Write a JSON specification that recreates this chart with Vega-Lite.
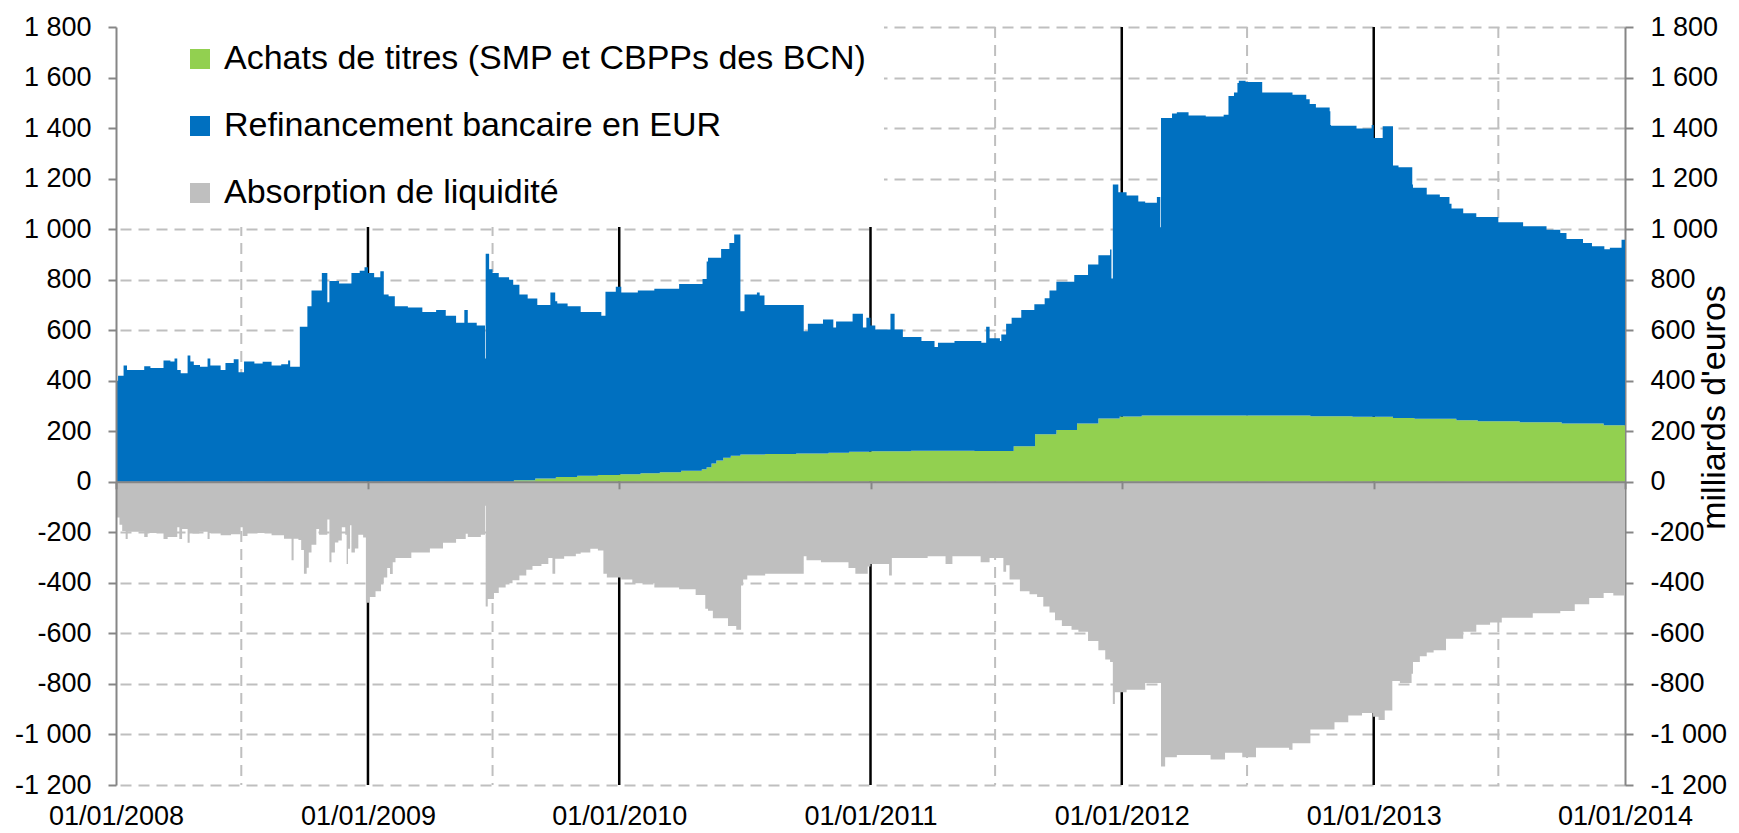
{
"$schema":"https://vega.github.io/schema/vega-lite/v6.json",
"width":1509,"height":758,
"autosize":{"type":"none"},
"padding":{"left":116,"top":27,"right":114,"bottom":48},
"background":"white",
"config":{"view":{"stroke":null},"font":"Liberation Sans"},
"datasets":{
"mi":[{"date":"2008-07-01"},{"date":"2009-07-01"},{"date":"2011-07-01"},{"date":"2012-07-01"},{"date":"2013-07-01"}],
"yrs":[{"date":"2009-01-01"},{"date":"2010-01-01"},{"date":"2011-01-01"},{"date":"2012-01-01"},{"date":"2013-01-01"}],
"main":[
{"date":"2008-01-01","achats":0,"refin":400},{"date":"2008-01-04","achats":0,"refin":420},{"date":"2008-01-12","achats":0,"refin":460},{"date":"2008-01-17","achats":0,"refin":442},{"date":"2008-02-11","achats":0,"refin":457},{"date":"2008-02-20","achats":0,"refin":450},{"date":"2008-03-10","achats":0,"refin":480},{"date":"2008-03-20","achats":0,"refin":476},{"date":"2008-03-26","achats":0,"refin":488},{"date":"2008-03-30","achats":0,"refin":442},{"date":"2008-04-04","achats":0,"refin":430},{"date":"2008-04-14","achats":0,"refin":500},{"date":"2008-04-18","achats":0,"refin":476},{"date":"2008-04-23","achats":0,"refin":462},{"date":"2008-05-02","achats":0,"refin":455},{"date":"2008-05-13","achats":0,"refin":488},{"date":"2008-05-17","achats":0,"refin":460},{"date":"2008-06-01","achats":0,"refin":442},{"date":"2008-06-08","achats":0,"refin":470},{"date":"2008-06-20","achats":0,"refin":485},{"date":"2008-06-27","achats":0,"refin":434},{"date":"2008-07-05","achats":0,"refin":476},{"date":"2008-07-20","achats":0,"refin":468},{"date":"2008-08-01","achats":0,"refin":475},{"date":"2008-08-14","achats":0,"refin":460},{"date":"2008-08-28","achats":0,"refin":465},{"date":"2008-09-07","achats":0,"refin":480},{"date":"2008-09-10","achats":0,"refin":455},{"date":"2008-09-24","achats":0,"refin":614},{"date":"2008-10-05","achats":0,"refin":695},{"date":"2008-10-11","achats":0,"refin":757},{"date":"2008-10-26","achats":0,"refin":826},{"date":"2008-11-03","achats":0,"refin":711},{"date":"2008-11-06","achats":0,"refin":795},{"date":"2008-11-20","achats":0,"refin":785},{"date":"2008-12-08","achats":0,"refin":826},{"date":"2008-12-20","achats":0,"refin":835},{"date":"2008-12-27","achats":0,"refin":849},
{"date":"2009-01-01","achats":0,"refin":826},{"date":"2009-01-10","achats":0,"refin":810},{"date":"2009-01-19","achats":0,"refin":833},{"date":"2009-01-24","achats":0,"refin":741},{"date":"2009-01-31","achats":0,"refin":734},{"date":"2009-02-09","achats":0,"refin":695},{"date":"2009-02-28","achats":0,"refin":690},{"date":"2009-03-21","achats":0,"refin":672},{"date":"2009-04-10","achats":0,"refin":680},{"date":"2009-04-24","achats":0,"refin":657},{"date":"2009-05-09","achats":0,"refin":629},{"date":"2009-05-21","achats":0,"refin":680},{"date":"2009-05-26","achats":0,"refin":629},{"date":"2009-06-08","achats":0,"refin":619},{"date":"2009-06-20","achats":0,"refin":488},{"date":"2009-06-21","achats":0,"refin":903},{"date":"2009-06-26","achats":0,"refin":841},{"date":"2009-07-01","achats":0,"refin":826},{"date":"2009-07-10","achats":0,"refin":810},{"date":"2009-07-25","achats":0,"refin":800},{"date":"2009-07-31","achats":0,"refin":780},{"date":"2009-08-01","achats":6,"refin":774},{"date":"2009-08-09","achats":6,"refin":735},{"date":"2009-08-21","achats":6,"refin":719},{"date":"2009-09-01","achats":13,"refin":712},{"date":"2009-09-04","achats":13,"refin":687},{"date":"2009-09-23","achats":13,"refin":736},{"date":"2009-09-30","achats":13,"refin":702},{"date":"2009-10-01","achats":19,"refin":696},{"date":"2009-10-03","achats":19,"refin":687},{"date":"2009-10-18","achats":19,"refin":676},{"date":"2009-11-01","achats":24,"refin":671},{"date":"2009-11-06","achats":24,"refin":648},{"date":"2009-12-01","achats":27,"refin":645},{"date":"2009-12-06","achats":27,"refin":630},{"date":"2009-12-12","achats":27,"refin":725},{"date":"2009-12-27","achats":27,"refin":745},
{"date":"2010-01-01","achats":30,"refin":742},{"date":"2010-01-04","achats":30,"refin":719},{"date":"2010-01-28","achats":30,"refin":727},{"date":"2010-02-01","achats":34,"refin":723},{"date":"2010-02-21","achats":34,"refin":730},{"date":"2010-03-01","achats":38,"refin":726},{"date":"2010-03-29","achats":38,"refin":745},{"date":"2010-04-01","achats":44,"refin":739},{"date":"2010-05-01","achats":50,"refin":733},{"date":"2010-05-02","achats":50,"refin":753},{"date":"2010-05-08","achats":58,"refin":814},{"date":"2010-05-10","achats":58,"refin":829},{"date":"2010-05-15","achats":72,"refin":815},{"date":"2010-05-22","achats":84,"refin":803},{"date":"2010-05-29","achats":84,"refin":837},{"date":"2010-06-01","achats":95,"refin":826},{"date":"2010-06-10","achats":95,"refin":850},{"date":"2010-06-12","achats":103,"refin":842},{"date":"2010-06-17","achats":103,"refin":876},{"date":"2010-06-26","achats":108,"refin":567},{"date":"2010-07-02","achats":108,"refin":633},{"date":"2010-07-20","achats":108,"refin":641},{"date":"2010-07-24","achats":108,"refin":629},{"date":"2010-07-31","achats":108,"refin":592},{"date":"2010-08-01","achats":110,"refin":590},{"date":"2010-09-15","achats":112,"refin":588},{"date":"2010-09-26","achats":112,"refin":484},{"date":"2010-10-02","achats":112,"refin":514},{"date":"2010-10-24","achats":112,"refin":530},{"date":"2010-11-01","achats":115,"refin":527},{"date":"2010-11-08","achats":115,"refin":496},{"date":"2010-11-12","achats":115,"refin":519},{"date":"2010-12-01","achats":119,"refin":515},{"date":"2010-12-06","achats":119,"refin":546},{"date":"2010-12-21","achats":119,"refin":492},{"date":"2010-12-26","achats":119,"refin":530},
{"date":"2011-01-01","achats":121,"refin":498},{"date":"2011-01-08","achats":121,"refin":482},{"date":"2011-01-30","achats":121,"refin":544},{"date":"2011-02-05","achats":121,"refin":482},{"date":"2011-02-17","achats":121,"refin":452},{"date":"2011-03-01","achats":123,"refin":450},{"date":"2011-03-16","achats":123,"refin":434},{"date":"2011-04-04","achats":123,"refin":411},{"date":"2011-04-09","achats":123,"refin":427},{"date":"2011-05-03","achats":123,"refin":434},{"date":"2011-06-01","achats":122,"refin":435},{"date":"2011-06-11","achats":122,"refin":428},{"date":"2011-06-18","achats":122,"refin":492},{"date":"2011-06-23","achats":122,"refin":446},{"date":"2011-07-08","achats":122,"refin":435},{"date":"2011-07-10","achats":122,"refin":461},{"date":"2011-07-17","achats":122,"refin":504},{"date":"2011-07-25","achats":122,"refin":527},{"date":"2011-07-28","achats":141,"refin":508},{"date":"2011-08-08","achats":141,"refin":539},{"date":"2011-08-27","achats":141,"refin":562},{"date":"2011-08-28","achats":188,"refin":515},{"date":"2011-09-11","achats":188,"refin":538},{"date":"2011-09-18","achats":188,"refin":569},{"date":"2011-09-28","achats":205,"refin":587},{"date":"2011-10-24","achats":205,"refin":613},{"date":"2011-10-28","achats":231,"refin":587},{"date":"2011-11-13","achats":231,"refin":629},{"date":"2011-11-28","achats":251,"refin":646},{"date":"2011-12-15","achats":251,"refin":668},{"date":"2011-12-17","achats":251,"refin":554},{"date":"2011-12-19","achats":251,"refin":926},{"date":"2011-12-27","achats":251,"refin":895},{"date":"2011-12-29","achats":258,"refin":888},
{"date":"2012-01-08","achats":258,"refin":875},{"date":"2012-01-25","achats":258,"refin":851},{"date":"2012-01-30","achats":262,"refin":847},{"date":"2012-02-04","achats":262,"refin":842},{"date":"2012-02-21","achats":262,"refin":865},{"date":"2012-02-26","achats":262,"refin":745},{"date":"2012-02-27","achats":262,"refin":1178},{"date":"2012-03-14","achats":262,"refin":1196},{"date":"2012-03-21","achats":262,"refin":1201},{"date":"2012-04-07","achats":262,"refin":1188},{"date":"2012-05-02","achats":262,"refin":1184},{"date":"2012-05-28","achats":262,"refin":1191},{"date":"2012-06-04","achats":262,"refin":1265},{"date":"2012-06-12","achats":262,"refin":1279},{"date":"2012-06-17","achats":262,"refin":1316},{"date":"2012-06-19","achats":262,"refin":1325},{"date":"2012-06-29","achats":262,"refin":1320},{"date":"2012-07-23","achats":262,"refin":1279},{"date":"2012-09-05","achats":262,"refin":1270},{"date":"2012-09-25","achats":262,"refin":1252},{"date":"2012-09-30","achats":262,"refin":1233},{"date":"2012-10-01","achats":259,"refin":1236},{"date":"2012-10-09","achats":259,"refin":1222},{"date":"2012-10-29","achats":259,"refin":1208},{"date":"2012-10-30","achats":259,"refin":1153},{"date":"2012-10-31","achats":259,"refin":1150},{"date":"2012-12-01","achats":257,"refin":1152},{"date":"2012-12-07","achats":257,"refin":1141},{"date":"2012-12-29","achats":257,"refin":1155},
{"date":"2013-01-01","achats":257,"refin":1104},{"date":"2013-01-14","achats":257,"refin":1150},{"date":"2013-01-29","achats":253,"refin":999},{"date":"2013-02-06","achats":253,"refin":992},{"date":"2013-02-26","achats":253,"refin":924},{"date":"2013-02-27","achats":253,"refin":911},{"date":"2013-03-01","achats":250,"refin":914},{"date":"2013-03-19","achats":250,"refin":887},{"date":"2013-04-07","achats":250,"refin":877},{"date":"2013-04-21","achats":250,"refin":850},{"date":"2013-04-24","achats":250,"refin":832},{"date":"2013-05-01","achats":244,"refin":838},{"date":"2013-05-11","achats":244,"refin":819},{"date":"2013-05-30","achats":244,"refin":804},{"date":"2013-06-01","achats":240,"refin":808},{"date":"2013-07-01","achats":240,"refin":787},{"date":"2013-08-01","achats":236,"refin":791},{"date":"2013-08-06","achats":236,"refin":775},{"date":"2013-09-09","achats":236,"refin":762},{"date":"2013-09-29","achats":236,"refin":749},{"date":"2013-10-01","achats":231,"refin":754},{"date":"2013-10-08","achats":231,"refin":730},{"date":"2013-11-01","achats":231,"refin":714},{"date":"2013-11-14","achats":231,"refin":701},{"date":"2013-12-01","achats":224,"refin":708},{"date":"2013-12-02","achats":224,"refin":696},{"date":"2013-12-10","achats":224,"refin":702},{"date":"2013-12-27","achats":224,"refin":734},{"date":"2014-01-01","achats":224,"refin":734}
],
"abs":[
{"date":"2008-01-01","absorption":-141},{"date":"2008-01-06","absorption":-170},{"date":"2008-01-10","absorption":-195},{"date":"2008-01-15","absorption":-226},{"date":"2008-01-18","absorption":-198},{"date":"2008-02-11","absorption":-218},{"date":"2008-02-16","absorption":-203},{"date":"2008-03-10","absorption":-226},{"date":"2008-03-16","absorption":-218},{"date":"2008-03-30","absorption":-180},{"date":"2008-04-02","absorption":-226},{"date":"2008-04-06","absorption":-187},{"date":"2008-04-14","absorption":-241},{"date":"2008-04-17","absorption":-205},{"date":"2008-05-01","absorption":-198},{"date":"2008-05-13","absorption":-226},{"date":"2008-05-16","absorption":-203},{"date":"2008-06-01","absorption":-212},{"date":"2008-06-16","absorption":-208},{"date":"2008-06-30","absorption":-180},{"date":"2008-07-03","absorption":-215},{"date":"2008-07-10","absorption":-203},{"date":"2008-08-14","absorption":-212},{"date":"2008-09-01","absorption":-225},{"date":"2008-09-12","absorption":-310},{"date":"2008-09-15","absorption":-225},{"date":"2008-09-22","absorption":-230},{"date":"2008-09-26","absorption":-270},{"date":"2008-09-30","absorption":-364},{"date":"2008-10-04","absorption":-340},{"date":"2008-10-07","absorption":-280},{"date":"2008-10-11","absorption":-249},{"date":"2008-10-18","absorption":-187},{"date":"2008-10-22","absorption":-210},{"date":"2008-11-03","absorption":-149},{"date":"2008-11-06","absorption":-318},{"date":"2008-11-09","absorption":-280},{"date":"2008-11-14","absorption":-240},{"date":"2008-11-19","absorption":-232},{"date":"2008-11-24","absorption":-180},{"date":"2008-11-29","absorption":-210},{"date":"2008-12-01","absorption":-325},{"date":"2008-12-03","absorption":-265},{"date":"2008-12-06","absorption":-172},{"date":"2008-12-08","absorption":-280},{"date":"2008-12-13","absorption":-264},{"date":"2008-12-18","absorption":-210},{"date":"2008-12-25","absorption":-220},{"date":"2008-12-29","absorption":-479},
{"date":"2009-01-03","absorption":-456},{"date":"2009-01-12","absorption":-433},{"date":"2009-01-20","absorption":-402},{"date":"2009-01-24","absorption":-379},{"date":"2009-01-29","absorption":-341},{"date":"2009-02-02","absorption":-365},{"date":"2009-02-06","absorption":-318},{"date":"2009-02-10","absorption":-302},{"date":"2009-03-05","absorption":-280},{"date":"2009-04-01","absorption":-264},{"date":"2009-04-20","absorption":-241},{"date":"2009-05-09","absorption":-226},{"date":"2009-05-23","absorption":-205},{"date":"2009-05-26","absorption":-218},{"date":"2009-06-14","absorption":-210},{"date":"2009-06-20","absorption":-95},{"date":"2009-06-21","absorption":-494},{"date":"2009-06-24","absorption":-464},{"date":"2009-07-03","absorption":-440},{"date":"2009-07-10","absorption":-418},{"date":"2009-07-20","absorption":-402},{"date":"2009-07-30","absorption":-390},{"date":"2009-08-09","absorption":-371},{"date":"2009-08-19","absorption":-348},{"date":"2009-08-28","absorption":-333},{"date":"2009-09-10","absorption":-325},{"date":"2009-09-20","absorption":-302},{"date":"2009-09-26","absorption":-364},{"date":"2009-09-30","absorption":-305},{"date":"2009-10-13","absorption":-295},{"date":"2009-10-30","absorption":-285},{"date":"2009-11-06","absorption":-280},{"date":"2009-11-20","absorption":-265},{"date":"2009-12-01","absorption":-272},{"date":"2009-12-09","absorption":-364},{"date":"2009-12-14","absorption":-379},
{"date":"2010-01-04","absorption":-387},{"date":"2010-01-20","absorption":-402},{"date":"2010-02-21","absorption":-418},{"date":"2010-03-29","absorption":-425},{"date":"2010-04-22","absorption":-448},{"date":"2010-05-06","absorption":-502},{"date":"2010-05-10","absorption":-510},{"date":"2010-05-17","absorption":-540},{"date":"2010-06-08","absorption":-571},{"date":"2010-06-20","absorption":-586},{"date":"2010-06-27","absorption":-410},{"date":"2010-06-30","absorption":-387},{"date":"2010-07-06","absorption":-371},{"date":"2010-08-01","absorption":-364},{"date":"2010-09-26","absorption":-295},{"date":"2010-09-30","absorption":-310},{"date":"2010-10-21","absorption":-318},{"date":"2010-11-30","absorption":-341},{"date":"2010-12-10","absorption":-364},{"date":"2010-12-28","absorption":-335},
{"date":"2011-01-01","absorption":-325},{"date":"2011-01-28","absorption":-371},{"date":"2011-02-01","absorption":-302},{"date":"2011-03-25","absorption":-295},{"date":"2011-04-20","absorption":-325},{"date":"2011-04-30","absorption":-295},{"date":"2011-06-10","absorption":-318},{"date":"2011-06-23","absorption":-302},{"date":"2011-07-13","absorption":-356},{"date":"2011-07-17","absorption":-330},{"date":"2011-07-22","absorption":-387},{"date":"2011-08-06","absorption":-433},{"date":"2011-08-20","absorption":-445},{"date":"2011-08-31","absorption":-456},{"date":"2011-09-09","absorption":-494},{"date":"2011-09-18","absorption":-517},{"date":"2011-09-26","absorption":-548},{"date":"2011-10-06","absorption":-571},{"date":"2011-10-20","absorption":-586},{"date":"2011-10-30","absorption":-593},{"date":"2011-11-13","absorption":-630},{"date":"2011-11-28","absorption":-667},{"date":"2011-12-08","absorption":-703},{"date":"2011-12-15","absorption":-713},{"date":"2011-12-19","absorption":-879},{"date":"2011-12-22","absorption":-833},
{"date":"2012-01-08","absorption":-823},{"date":"2012-02-04","absorption":-796},{"date":"2012-02-27","absorption":-1127},{"date":"2012-03-04","absorption":-1090},{"date":"2012-03-21","absorption":-1081},{"date":"2012-05-09","absorption":-1099},{"date":"2012-05-30","absorption":-1072},{"date":"2012-06-24","absorption":-1090},{"date":"2012-07-14","absorption":-1053},{"date":"2012-08-31","absorption":-1060},{"date":"2012-09-05","absorption":-1035},{"date":"2012-10-01","absorption":-980},{"date":"2012-11-05","absorption":-952},{"date":"2012-11-25","absorption":-925},{"date":"2012-12-15","absorption":-915},{"date":"2012-12-31","absorption":-930},
{"date":"2013-01-08","absorption":-943},{"date":"2013-01-17","absorption":-905},{"date":"2013-01-28","absorption":-788},{"date":"2013-02-08","absorption":-796},{"date":"2013-02-25","absorption":-760},{"date":"2013-02-27","absorption":-713},{"date":"2013-03-09","absorption":-690},{"date":"2013-03-19","absorption":-676},{"date":"2013-03-29","absorption":-667},{"date":"2013-04-16","absorption":-621},{"date":"2013-05-11","absorption":-593},{"date":"2013-05-30","absorption":-566},{"date":"2013-06-19","absorption":-557},{"date":"2013-07-06","absorption":-538},{"date":"2013-08-20","absorption":-520},{"date":"2013-09-29","absorption":-511},{"date":"2013-10-20","absorption":-485},{"date":"2013-11-10","absorption":-460},{"date":"2013-12-01","absorption":-440},{"date":"2013-12-15","absorption":-450},{"date":"2014-01-01","absorption":-445}
]
},
"layer":[
{"data":{"name":"mi"},"mark":{"type":"rule","color":"#BFBFBF","strokeWidth":2,"strokeDash":[11,7]},
 "encoding":{"x":{"field":"date","type":"temporal","scale":{"type":"utc","domain":[{"year":2008,"month":1,"date":1,"utc":true},{"year":2014,"month":1,"date":1,"utc":true}]},"axis":null}}},
{"data":{"name":"yrs"},"mark":{"type":"rule","color":"black","strokeWidth":2.5},
 "encoding":{"x":{"field":"date","type":"temporal","axis":null}}},
{"data":{"name":"abs"},"mark":{"type":"area","interpolate":"step-after"},
 "encoding":{
  "x":{"field":"date","type":"temporal","axis":{"orient":"bottom","values":[{"year":2008,"month":1,"date":1,"utc":true},{"year":2009,"month":1,"date":1,"utc":true},{"year":2010,"month":1,"date":1,"utc":true},{"year":2011,"month":1,"date":1,"utc":true},{"year":2012,"month":1,"date":1,"utc":true},{"year":2013,"month":1,"date":1,"utc":true},{"year":2014,"month":1,"date":1,"utc":true}],"labelExpr":"utcFormat(datum.value, '%d/%m/%Y')","grid":false,"domain":false,"ticks":false,"tickSize":0,"labelFontSize":27,"labelFont":"Liberation Sans","labelColor":"black","labelPadding":18,"labelFlush":false,"labelOverlap":false,"labelBound":false,"title":null,"zindex":1}},
  "y":{"field":"absorption","type":"quantitative","scale":{"domain":[-1200,1800],"nice":false,"zero":false},"axis":{"orient":"left","values":[-1200,-1000,-800,-600,-400,-200,0,200,400,600,800,1000,1200,1400,1600,1800],"grid":false,"domainColor":"#868686","domainWidth":2,"tickColor":"#868686","tickWidth":2,"tickSize":8,"labelFontSize":27,"labelFont":"Liberation Sans","labelColor":"black","labelPadding":17,"labelExpr":"(datum.value < 0 ? '-' : '') + (abs(datum.value) >= 1000 ? floor(abs(datum.value) / 1000) + ' ' + format(abs(datum.value) % 1000, '03d') : '' + abs(datum.value))","title":null,"zindex":1}},
  "color":{"datum":"absorption","type":"nominal","scale":{"domain":["achats","refin","absorption"],"range":["#92D050","#0070C0","#BFBFBF"]},
   "legend":{"orient":"none","legendX":-1,"legendY":-2,"title":" ","titleOrient":"left","titleFontSize":1,"titlePadding":51,"fillColor":"white","padding":17,"symbolType":"square","symbolSize":400,"symbolStrokeWidth":0,"symbolOpacity":1,"labelFontSize":34,"labelFont":"Liberation Sans","labelColor":"black","labelOffset":7,"rowPadding":33,"labelLimit":1200,
    "labelExpr":"datum.label == 'achats' ? 'Achats de titres (SMP et CBPPs des BCN)\u00a0\u00a0\u00a0\u00a0\u00a0\u00a0\u00a0' : datum.label == 'refin' ? 'Refinancement bancaire en EUR' : 'Absorption de liquidité'"}}
 }},
{"data":{"name":"main"},"transform":[{"fold":["achats","refin"],"as":["serie","valeur"]}],
 "mark":{"type":"area","interpolate":"step-after"},
 "encoding":{
  "x":{"field":"date","type":"temporal","axis":{"orient":"bottom","offset":-303.2,"values":[{"year":2008,"month":1,"date":1,"utc":true},{"year":2009,"month":1,"date":1,"utc":true},{"year":2010,"month":1,"date":1,"utc":true},{"year":2011,"month":1,"date":1,"utc":true},{"year":2012,"month":1,"date":1,"utc":true},{"year":2013,"month":1,"date":1,"utc":true},{"year":2014,"month":1,"date":1,"utc":true}],"grid":false,"labels":false,"domain":true,"domainColor":"#868686","domainWidth":2,"ticks":true,"tickColor":"#868686","tickWidth":2,"tickSize":7,"title":null,"zindex":1}},
  "y":{"field":"valeur","type":"quantitative","stack":"zero","axis":{"orient":"right","values":[-1200,-1000,-800,-600,-400,-200,0,200,400,600,800,1000,1200,1400,1600,1800],"grid":true,"gridColor":"#BFBFBF","gridWidth":2,"gridDash":[11,7],"domainColor":"#868686","domainWidth":2,"tickColor":"#868686","tickWidth":2,"tickSize":8,"labelFontSize":27,"labelFont":"Liberation Sans","labelColor":"black","labelPadding":17,"labelExpr":"(datum.value < 0 ? '-' : '') + (abs(datum.value) >= 1000 ? floor(abs(datum.value) / 1000) + ' ' + format(abs(datum.value) % 1000, '03d') : '' + abs(datum.value))","title":"milliards d'euros","titleFontSize":34,"titleFont":"Liberation Sans","titleFontWeight":"normal","titleColor":"black","titleAngle":270,"titleX":99,"titleY":380,"titleBaseline":"alphabetic","titleAlign":"center"}},
  "color":{"field":"serie","type":"nominal","scale":{"domain":["achats","refin","absorption"],"range":["#92D050","#0070C0","#BFBFBF"]},
   "legend":{"orient":"none","legendX":-1,"legendY":-2,"title":" ","titleOrient":"left","titleFontSize":1,"titlePadding":51,"fillColor":"white","padding":17,"symbolType":"square","symbolSize":400,"symbolStrokeWidth":0,"symbolOpacity":1,"labelFontSize":34,"labelFont":"Liberation Sans","labelColor":"black","labelOffset":7,"rowPadding":33,"labelLimit":1200,
    "labelExpr":"datum.label == 'achats' ? 'Achats de titres (SMP et CBPPs des BCN)\u00a0\u00a0\u00a0\u00a0\u00a0\u00a0\u00a0' : datum.label == 'refin' ? 'Refinancement bancaire en EUR' : 'Absorption de liquidité'"}},
  "order":{"field":"serie","sort":"ascending"}
 }}
],
"resolve":{"axis":{"x":"independent","y":"independent"}}
}
